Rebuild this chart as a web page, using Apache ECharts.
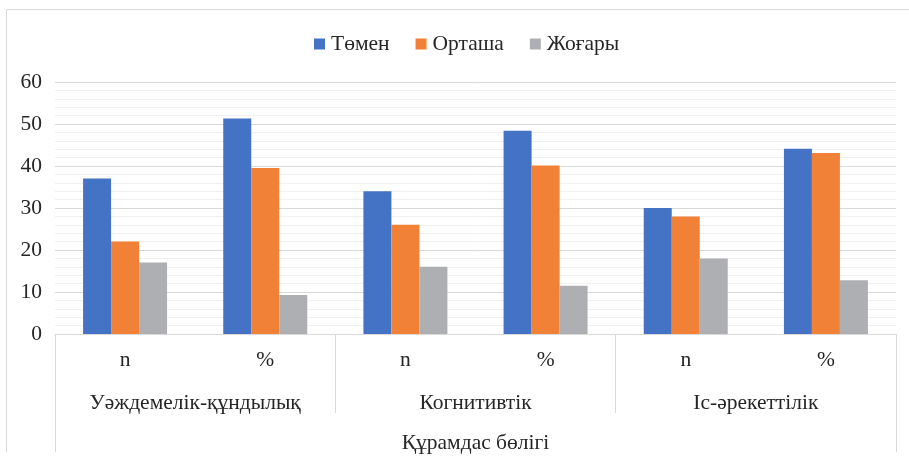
<!DOCTYPE html>
<html><head><meta charset="utf-8">
<script src="https://cdn.jsdelivr.net/npm/echarts@6/dist/echarts.min.js"></script>
<style>html,body{margin:0;padding:0;background:#fff}#c{width:909px;height:458px}</style>
</head><body><div id="c"></div>
<script>
const subCategories = ['n', '%', 'n', '%', 'n', '%'];
const groupCategories = ['Уәждемелік-құндылық', 'Когнитивтік', 'Іс-әрекеттілік'];
const axisTitle = ['Құрамдас бөлігі'];
const seriesNames = ['Төмен', 'Орташа', 'Жоғары'];
const lowValues = [37, 51.3, 34, 48.4, 30, 44.1];
const midValues = [22, 39.5, 26, 40.1, 28, 43.1];
const highValues = [17, 9.3, 16, 11.5, 18, 12.8];
const yTicks = { min: 0, max: 60, interval: 10 };

const font = 'Liberation Serif';
const fs = 21.5;
const txt = '#262626';
const colors = ['#4472C4', '#F08136', '#AEAFB2'];
const chart = echarts.init(document.getElementById('c'), null, { renderer: 'canvas' });
const dataSets = [lowValues, midValues, highValues];
chart.setOption({
  animation: false,
  backgroundColor: '#fff',
  color: colors,
  textStyle: { fontFamily: font },
  graphic: [{
    type: 'polyline', silent: true,
    shape: { points: [[6.5, 452], [6.5, 9.5], [909, 9.5]] },
    style: { stroke: '#D9D9D9', lineWidth: 1, fill: null }
  }],
  legend: {
    top: 28, left: 309, itemWidth: 11, itemHeight: 11, itemGap: 26,
    icon: 'rect',
    textStyle: { fontFamily: font, fontSize: fs, color: txt, padding: [0, 0, 0, 1] },
    data: seriesNames
  },
  grid: { left: 55, right: 13, top: 82, bottom: 124, containLabel: false },
  xAxis: [
    {
      type: 'category', data: subCategories, position: 'bottom',
      axisLine: { show: true, lineStyle: { color: '#D9D9D9', width: 1 } },
      axisTick: { show: false },
      axisLabel: { margin: 15.5, fontFamily: font, fontSize: fs, color: txt, interval: 0 }
    },
    {
      type: 'category', data: groupCategories, position: 'bottom',
      axisLine: { show: false },
      axisTick: { show: true, length: 79, interval: 0, lineStyle: { color: '#D9D9D9', width: 1 } },
      axisLabel: { margin: 58.5, fontFamily: font, fontSize: fs, color: txt, interval: 0 }
    },
    {
      type: 'category', data: axisTitle, position: 'bottom',
      axisLine: { show: false },
      axisTick: { show: true, length: 118, interval: 0, lineStyle: { color: '#D9D9D9', width: 1 } },
      axisLabel: { margin: 98, fontFamily: font, fontSize: fs, color: txt, interval: 0 }
    }
  ],
  yAxis: {
    type: 'value', min: yTicks.min, max: yTicks.max, interval: yTicks.interval,
    axisLine: { show: false }, axisTick: { show: false },
    axisLabel: { margin: 13, fontFamily: font, fontSize: fs, color: txt },
    splitLine: { show: true, lineStyle: { color: '#D9D9D9', width: 1 } },
    minorTick: { show: false, splitNumber: 5 },
    minorSplitLine: { show: true, lineStyle: { color: '#F0F0F0', width: 1 } }
  },
  series: seriesNames.map((name, i) => ({
    name, type: 'bar', xAxisIndex: 0, yAxisIndex: 0,
    data: dataSets[i], barWidth: 28, barGap: '0%',
    itemStyle: { color: colors[i] }
  }))
});
</script></body></html>
